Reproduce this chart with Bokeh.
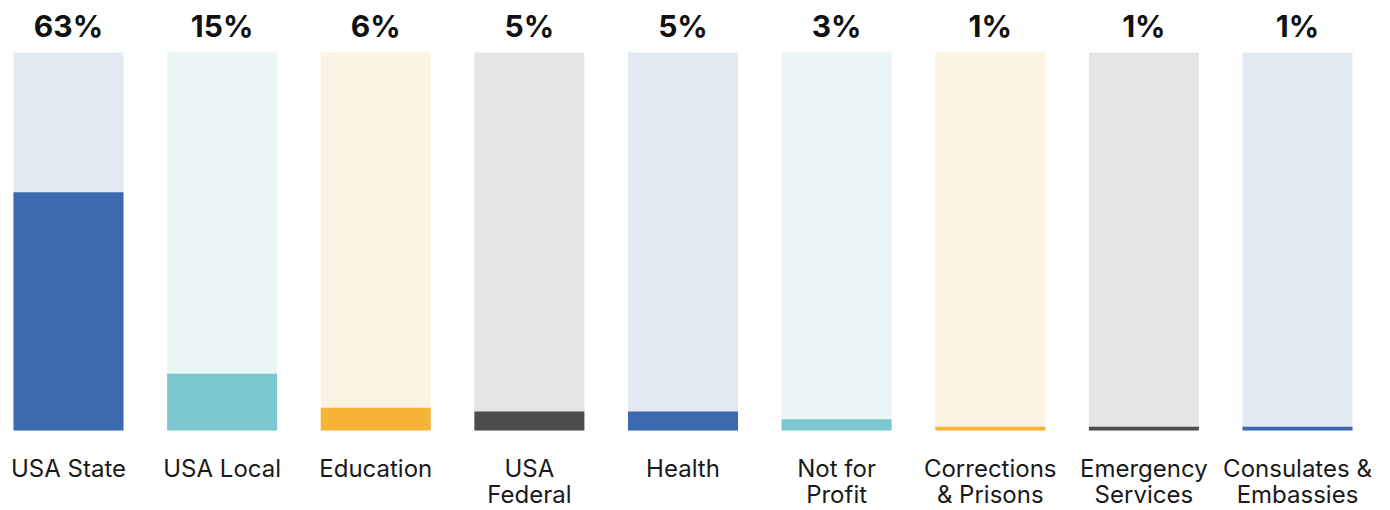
from bokeh.plotting import figure
from bokeh.models import ColumnDataSource, Range1d
from bokeh.core.properties import value
from bokeh.embed import file_html
from bokeh.resources import INLINE

categories = ["USA State", "USA Local", "Education", "USA\nFederal", "Health",
              "Not for\nProfit", "Corrections\n& Prisons", "Emergency\nServices",
              "Consulates &\nEmbassies"]
values = [63, 15, 6, 5, 5, 3, 1, 1, 1]
value_labels = ["63%", "15%", "6%", "5%", "5%", "3%", "1%", "1%", "1%"]
fg_colors = ["#3A69B0", "#7AC7D0", "#F6B335", "#4D4D4D", "#3A69B0",
             "#7AC7D0", "#F6B335", "#4D4D4D", "#3A69B0"]
bg_colors = ["#E2E9F3", "#EAF6F6", "#FDF3E2", "#E5E5E5", "#E2E9F3",
             "#EAF6F6", "#FDF3E2", "#E5E5E5", "#E2E9F3"]
full = [100] * len(values)

idx = list(range(len(categories)))
src = ColumnDataSource(dict(x=idx, v=values, full=full, fg=fg_colors, bg=bg_colors,
                            cat=categories, lab=value_labels,
                            ytop=[107.1] * len(idx), ybot=[-6.2] * len(idx)))

p = figure(width=1390, height=510, output_backend="svg", toolbar_location=None,
           x_range=Range1d(-0.4427, 8.6055), y_range=Range1d(-21.16, 113.76),
           min_border=0, outline_line_color=None)
p.axis.visible = False
p.grid.visible = False
p.background_fill_color = "white"
p.border_fill_color = "white"

bw = 0.716
p.vbar(x="x", top="full", bottom=0, width=bw, fill_color="bg", line_color=None, source=src)
p.vbar(x="x", top="v", bottom=0, width=bw, fill_color="fg", line_color=None, source=src)

p.text(x="x", y="ytop", text="lab", source=src, text_align="center",
       text_baseline="middle", text_font=value("Inter"), text_font_style="bold",
       text_font_size="30px", text_color="#111111")
p.text(x="x", y="ybot", text="cat", source=src, text_align="center",
       text_baseline="top", text_font=value("Inter"), text_font_size="24px",
       text_color="#1a1a1a", text_line_height=0.9)

open("out.html", "w").write(file_html(p, INLINE))
